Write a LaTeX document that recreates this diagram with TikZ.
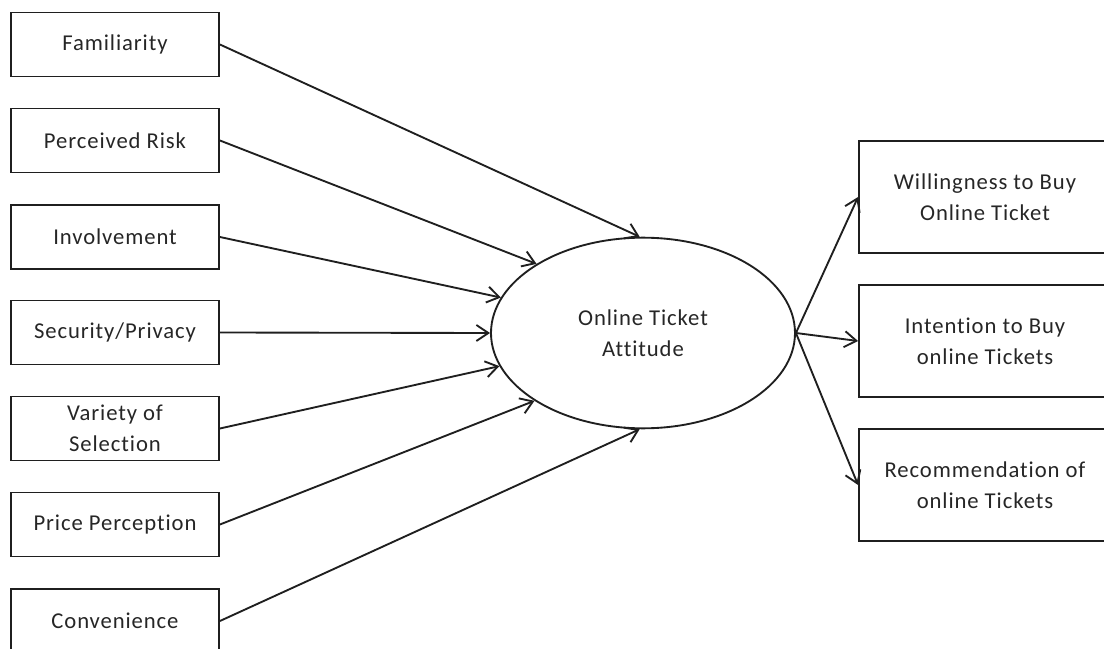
\documentclass[tikz,border=0pt]{standalone}
\usepackage{fontspec}
\setmainfont{Carlito}[LetterSpace=4,Ligatures=NoCommon]
\usetikzlibrary{shapes.geometric,arrows.meta}

\tikzset{
	factor/.style={draw=black!88, line width=1.4pt, minimum width=156pt, minimum height=48pt, inner sep=0.75pt, align=center, text=black!85, font=\fontsize{17}{23}\selectfont},
	outcome/.style={factor, minimum width=189pt, minimum height=84pt},
	link/.style={draw=black!88, line width=1.4pt, -{Straight Barb[length=9pt,width=12pt,line width=1.4pt]}}
}

\begin{document}
\begin{tikzpicture}[x=0.75pt,y=0.75pt,yscale=-1,xscale=1]
	%set diagram left start at 0, and has height of 649
	\path[use as bounding box] (0,0) rectangle (1104,649);
	
	%Shape: Ellipse
	\node (att) [draw=black!88, line width=1.4pt, ellipse, minimum width=228pt, minimum height=143pt, inner sep=0pt, align=center, text=black!85, font=\fontsize{17}{23}\selectfont] at (643,333) {Online Ticket\\Attitude};
	
	%Shape: Rectangle
	\node (fam) [factor] at (115,44.5) {Familiarity};
	\node (risk) [factor] at (115,140.5) {Perceived Risk};
	\node (inv) [factor] at (115,237) {Involvement};
	\node (sec) [factor] at (115,332.5) {Security/Privacy};
	\node (var) [factor] at (115,428.5) {Variety of\\Selection};
	\node (price) [factor] at (115,524.5) {Price Perception};
	\node (conv) [factor] at (115,621) {Convenience};
	
	%Shape: Rectangle
	\node (will) [outcome] at (985,197) {Willingness to Buy\\Online Ticket};
	\node (int) [outcome] at (985,341) {Intention to Buy\\online Tickets};
	\node (rec) [outcome] at (985,485) {Recommendation of\\online Tickets};
	
	%Straight Lines
	\draw [link] (fam.east) -- (att.92);
	\draw [link] (risk.east) -- (att.147);
	\draw [link] (inv.east) -- (att.166);
	\draw [link] (sec.east) -- (att.180);
	\draw [link] (var.east) -- (att.193);
	\draw [link] (price.east) -- (att.212);
	\draw [link] (conv.east) -- (att.268);
	
	%Straight Lines
	\draw [link] (att.east) -- (will.west);
	\draw [link] (att.east) -- (int.west);
	\draw [link] (att.east) -- (rec.west);
	
\end{tikzpicture}
\end{document}
